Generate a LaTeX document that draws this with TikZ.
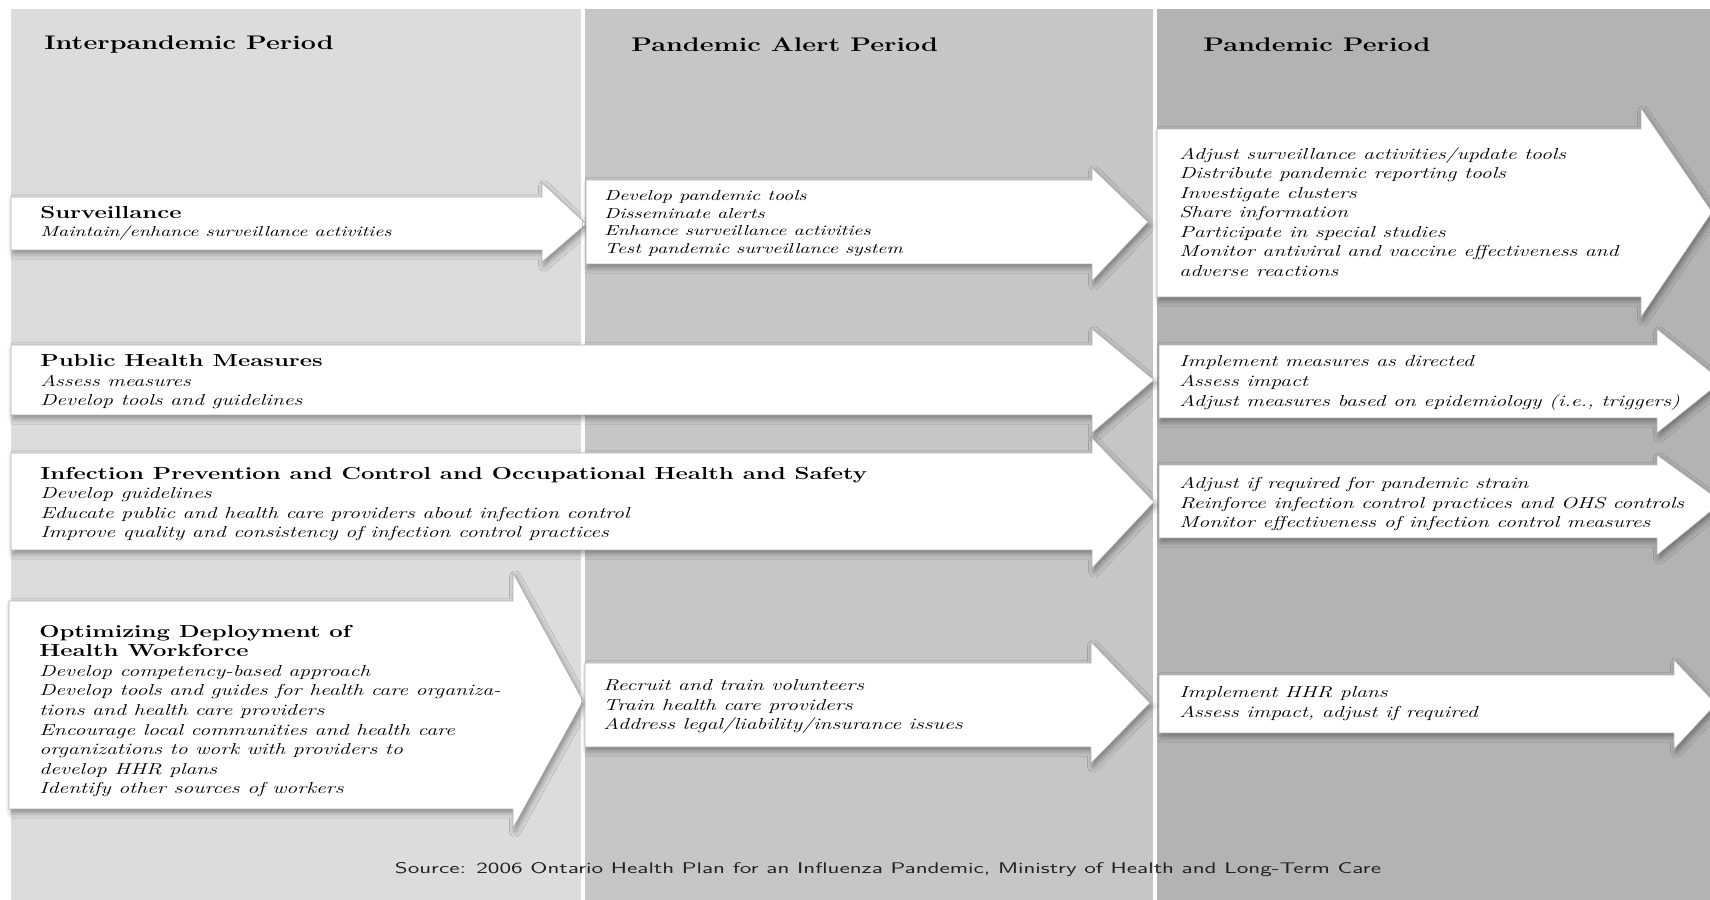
\documentclass[tikz,border=0pt]{standalone}
\usepackage{xcolor}
\usepackage{tikz}
\usetikzlibrary{shadows.blur}

\definecolor{interbg}{RGB}{220,220,220}
\definecolor{alertbg}{RGB}{198,198,198}
\definecolor{pandbg}{RGB}{179,179,179}
\newcommand{\boxtitle}[1]{{\fontsize{12.4}{14.5}\selectfont\upshape\bfseries #1}}

\begin{document}
\begin{tikzpicture}[scale=2.5,
    arrowbox/.style={fill=white, draw=gray!60, line width=0.4pt,
      blur shadow={shadow xshift=1.5pt, shadow yshift=-2.5pt, shadow blur radius=4pt, shadow opacity=40}},
    period/.style={anchor=west, inner sep=0pt, font=\fontsize{14}{16}\selectfont\bfseries, xscale=1.37},
    items/.style={anchor=west, inner sep=0pt, align=left, font=\fontsize{11.3}{13.9}\selectfont\itshape, xscale=1.37},
    smallitems/.style={items, font=\fontsize{10.3}{12.6}\selectfont\itshape}]
    \useasboundingbox (0,0) rectangle (17.1,9);
    \clip (0,0) rectangle (17.1,9);

    % Period columns
    \fill[interbg] (0.11,0) rectangle (5.81,8.91);
    \fill[alertbg] (5.85,0) rectangle (11.53,8.91);
    \fill[pandbg] (11.57,0) rectangle (17.1,8.91);
    \node[period] (hdinter) at (0.44,8.55) {Interpandemic Period};
    \node[period] (hdalert) at (6.31,8.55) {Pandemic Alert Period};
    \node[period] (hdpand) at (12.03,8.55) {Pandemic Period};

    % Surveillance
    \draw[arrowbox] (0.11,7.03) -- (5.42,7.03) -- (5.42,7.17) -- (5.86,6.76) -- (5.42,6.38) -- (5.42,6.50) -- (0.11,6.50) -- cycle;
    \draw[arrowbox] (5.86,7.20) -- (10.92,7.20) -- (10.92,7.32) -- (11.48,6.78) -- (10.92,6.19) -- (10.92,6.36) -- (5.86,6.36) -- cycle;
    \draw[arrowbox] (11.57,7.71) -- (16.41,7.71) -- (16.41,7.92) -- (17.12,6.88) -- (16.41,5.83) -- (16.41,6.03) -- (11.57,6.03) -- cycle;
    \node[smallitems] (survinter) at (0.40,6.77) {\boxtitle{Surveillance}\\
      Maintain/enhance surveillance activities};
    \node[smallitems] (survalert) at (6.04,6.765) {Develop pandemic tools\\ Disseminate alerts\\
      Enhance surveillance activities\\ Test pandemic surveillance system};
    \node[items] (survpand) at (11.79,6.88) {Adjust surveillance activities/update tools\\
      Distribute pandemic reporting tools\\ Investigate clusters\\ Share information\\
      Participate in special studies\\ Monitor antiviral and vaccine effectiveness and\\
      adverse reactions};

    % Public health measures
    \draw[arrowbox] (0.11,5.55) -- (10.92,5.55) -- (10.92,5.71) -- (11.54,5.20) -- (10.92,4.67) -- (10.92,4.85) -- (0.11,4.85) -- cycle;
    \draw[arrowbox] (11.59,5.55) -- (16.57,5.55) -- (16.57,5.71) -- (17.22,5.19) -- (16.57,4.67) -- (16.57,4.82) -- (11.59,4.82) -- cycle;
    \node[items] (phminter) at (0.40,5.18) {\boxtitle{Public Health Measures}\\
      Assess measures\\ Develop tools and guidelines};
    \node[items] (phmpand) at (11.79,5.17) {Implement measures as directed\\ Assess impact\\
      Adjust measures based on epidemiology (i.e., triggers)};

    % Infection prevention and control
    \draw[arrowbox] (0.11,4.47) -- (10.92,4.47) -- (10.92,4.62) -- (11.54,3.98) -- (10.92,3.32) -- (10.92,3.50) -- (0.11,3.50) -- cycle;
    \draw[arrowbox] (11.59,4.35) -- (16.57,4.35) -- (16.57,4.45) -- (17.22,3.98) -- (16.57,3.45) -- (16.57,3.62) -- (11.59,3.62) -- cycle;
    \node[items] (ipcinter) at (0.40,3.96) {\boxtitle{Infection Prevention and Control and Occupational Health and Safety}\\
      Develop guidelines\\ Educate public and health care providers about infection control\\
      Improve quality and consistency of infection control practices};
    \node[items] (ipcpand) at (11.79,3.96) {Adjust if required for pandemic strain\\
      Reinforce infection control practices and OHS controls\\
      Monitor effectiveness of infection control measures};

    % Health workforce
    \draw[arrowbox] (0.09,2.99) -- (5.13,2.99) -- (5.13,3.27) -- (5.83,1.99) -- (5.13,0.72) -- (5.13,0.91) -- (0.09,0.91) -- cycle;
    \draw[arrowbox] (5.85,2.37) -- (10.91,2.37) -- (10.91,2.58) -- (11.50,1.97) -- (10.91,1.37) -- (10.91,1.53) -- (5.85,1.53) -- cycle;
    \draw[arrowbox] (11.59,2.25) -- (16.74,2.25) -- (16.74,2.40) -- (17.16,1.96) -- (16.74,1.51) -- (16.74,1.67) -- (11.59,1.67) -- cycle;
    \node[items] (hhrinter) at (0.39,1.89) {\boxtitle{Optimizing Deployment of}\\ \boxtitle{Health Workforce}\\
      Develop competency-based approach\\ Develop tools and guides for health care organiza-\\
      tions and health care providers\\ Encourage local communities and health care\\
      organizations to work with providers to\\ develop HHR plans\\ Identify other sources of workers};
    \node[items] (hhralert) at (6.03,1.935) {Recruit and train volunteers\\ Train health care providers\\
      Address legal/liability/insurance issues};
    \node[items] (hhrpand) at (11.79,1.965) {Implement HHR plans\\ Assess impact, adjust if required};

    \node[text=gray!25!black, font=\sffamily\fontsize{11}{13}\selectfont, xscale=1.53] (source) at (8.88,0.30)
      {Source: 2006 Ontario Health Plan for an Influenza Pandemic, Ministry of Health and Long-Term Care};
\end{tikzpicture}
\end{document}
